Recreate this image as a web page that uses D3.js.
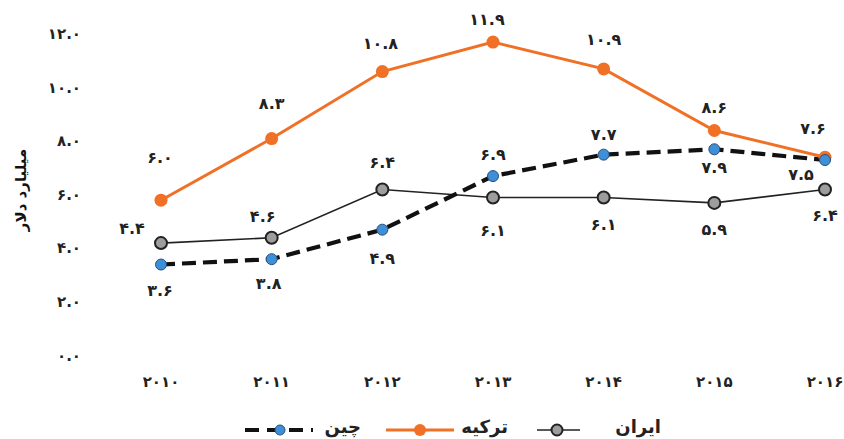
<!DOCTYPE html>
<html><head><meta charset="utf-8">
<script src="https://cdn.jsdelivr.net/npm/d3@7"></script>
<style>
html,body{margin:0;padding:0;background:#fff;}
text{font-family:"DejaVu Sans",sans-serif;font-weight:bold;}
</style></head>
<body><svg id="c" width="844" height="439"></svg>
<script>
const years = [2010, 2011, 2012, 2013, 2014, 2015, 2016];
const turkey = [6.0, 8.3, 10.8, 11.9, 10.9, 8.6, 7.6];
const china  = [3.6, 3.8, 4.9, 6.9, 7.7, 7.9, 7.5];
const iran   = [4.4, 4.6, 6.4, 6.1, 6.1, 5.9, 6.4];
const yTicks = [0, 2, 4, 6, 8, 10, 12];
const seriesNames = ["ایران", "ترکیه", "چین"];
const yTitle = "میلیارد دلار";

const fa = s => String(s).replace(/[0-9]/g, d => "۰۱۲۳۴۵۶۷۸۹"[+d]);

const svg = d3.select("#c");
const x = d3.scalePoint().domain(years).range([161, 825]);
const y = d3.scaleLinear().domain([0, 12]).range([361, 39.4]);

// y tick labels
svg.append("g").selectAll("text").data(yTicks).join("text")
  .attr("x", 81).attr("y", d => y(d) - 5)
  .attr("text-anchor", "end").attr("dominant-baseline", "middle")
  .attr("font-size", 15).attr("fill", "#222")
  .text(d => fa(d.toFixed(1)));

// x labels
svg.append("g").selectAll("text").data(years).join("text")
  .attr("x", d => x(d)).attr("y", 382)
  .attr("text-anchor", "middle").attr("dominant-baseline", "middle")
  .attr("font-size", 15).attr("fill", "#222")
  .text(d => fa(d));

// y title
svg.append("text").attr("transform", "translate(21,190) rotate(-90)")
  .attr("text-anchor", "middle").attr("dominant-baseline", "middle")
  .attr("font-size", 15).attr("fill", "#111").text(yTitle);

const line = d3.line().x((d, i) => x(years[i])).y(d => y(d));

const ORANGE = "#f07125", BLUE = "#3d8fd8", GREY = "#9d9d9d";

// Iran
svg.append("path").datum(iran).attr("d", line).attr("fill", "none")
  .attr("stroke", "#222").attr("stroke-width", 1.6);
// Turkey
svg.append("path").datum(turkey).attr("d", line).attr("fill", "none")
  .attr("stroke", ORANGE).attr("stroke-width", 3);
// China
svg.append("path").datum(china).attr("d", line).attr("fill", "none")
  .attr("stroke", "#111").attr("stroke-width", 4.2).attr("stroke-dasharray", "14,7");

svg.append("g").selectAll("circle").data(iran).join("circle")
  .attr("cx", (d, i) => x(years[i])).attr("cy", d => y(d)).attr("r", 6)
  .attr("fill", GREY).attr("stroke", "#222").attr("stroke-width", 2);
svg.append("g").selectAll("circle").data(turkey).join("circle")
  .attr("cx", (d, i) => x(years[i])).attr("cy", d => y(d)).attr("r", 6.5)
  .attr("fill", ORANGE);
svg.append("g").selectAll("circle").data(china).join("circle")
  .attr("cx", (d, i) => x(years[i])).attr("cy", d => y(d)).attr("r", 5.5)
  .attr("fill", BLUE).attr("stroke", "#2a4f7a").attr("stroke-width", 1);

// value labels (offsets dx, dy relative to point)
const iranOff   = [[-29,-12],[-9,-18],[0,-24],[0,36],[0,30],[0,30],[0,29]];
const turkeyOff = [[-1,-40],[0,-32],[-2,-25],[-6,-20],[0,-26],[0,-20],[-12,-26]];
const chinaOff  = [[-1,29],[-3,27],[0,32],[0,-19],[0,-17],[0,21],[-24,17]];

function labels(vals, off) {
  svg.append("g").selectAll("text").data(vals).join("text")
    .attr("x", (d, i) => x(years[i]) + off[i][0])
    .attr("y", (d, i) => y(d) + off[i][1] - 2)
    .attr("text-anchor", "middle").attr("dominant-baseline", "middle")
    .attr("font-size", 16).attr("fill", "#222")
    .text(d => fa(d.toFixed(1)));
}
labels(iran, iranOff);
labels(turkey, turkeyOff);
labels(china, chinaOff);

// legend
const ly = 430;
const lg = svg.append("g");
// Iran
lg.append("line").attr("x1", 537).attr("x2", 580).attr("y1", ly).attr("y2", ly)
  .attr("stroke", "#222").attr("stroke-width", 1.6);
lg.append("circle").attr("cx", 557).attr("cy", ly).attr("r", 5.5)
  .attr("fill", GREY).attr("stroke", "#222").attr("stroke-width", 2);
lg.append("text").attr("x", 661).attr("y", ly - 2).attr("text-anchor", "end")
  .attr("dominant-baseline", "middle").attr("font-size", 18).attr("fill", "#222")
  .text(seriesNames[0]);
// Turkey
lg.append("line").attr("x1", 386).attr("x2", 454).attr("y1", ly).attr("y2", ly)
  .attr("stroke", ORANGE).attr("stroke-width", 3);
lg.append("circle").attr("cx", 420).attr("cy", ly).attr("r", 6).attr("fill", ORANGE);
lg.append("text").attr("x", 508).attr("y", ly - 2).attr("text-anchor", "end")
  .attr("dominant-baseline", "middle").attr("font-size", 18).attr("fill", "#222")
  .text(seriesNames[1]);
// China
lg.append("line").attr("x1", 245).attr("x2", 313).attr("y1", ly).attr("y2", ly)
  .attr("stroke", "#111").attr("stroke-width", 4.2).attr("stroke-dasharray", "14,8");
lg.append("circle").attr("cx", 280).attr("cy", ly).attr("r", 5)
  .attr("fill", BLUE).attr("stroke", "#2a4f7a").attr("stroke-width", 1);
lg.append("text").attr("x", 361).attr("y", ly - 2).attr("text-anchor", "end")
  .attr("dominant-baseline", "middle").attr("font-size", 18).attr("fill", "#222")
  .text(seriesNames[2]);
</script></body></html>
